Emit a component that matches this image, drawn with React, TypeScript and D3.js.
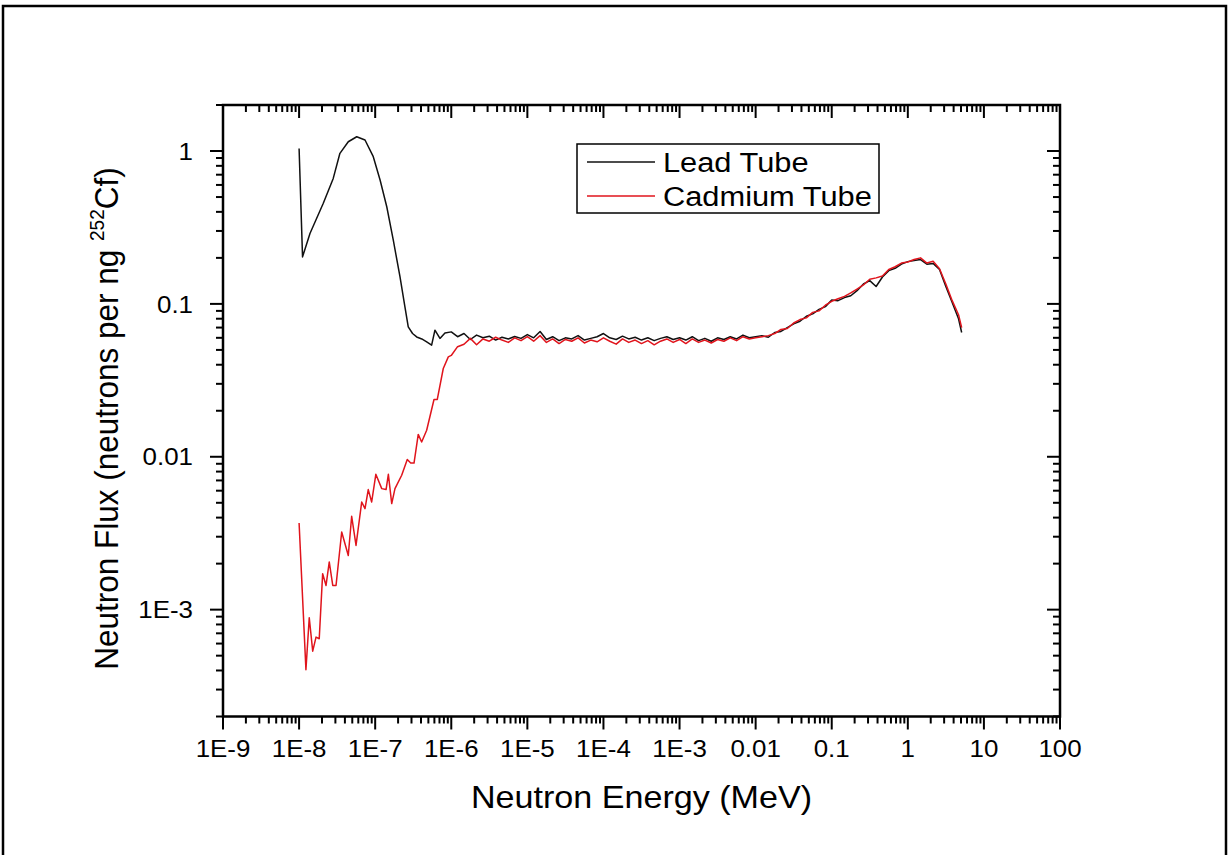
import React from "react";
import * as d3 from "d3";

// ---------- data ----------
const leadLowE = [1.0e-8, 1.11e-8, 1.39e-8, 2.08e-8, 2.81e-8, 3.44e-8, 4.43e-8, 5.72e-8, 7.35e-8, 9.44e-8, 1.16e-7, 1.42e-7, 1.73e-7, 2.12e-7, 2.46e-7, 2.72e-7, 3.1e-7, 3.51e-7, 4.1e-7, 4.75e-7, 5.52e-7, 6.1e-7, 7.1e-7, 8.26e-7];
const leadLowF = [1.04, 0.203, 0.289, 0.455, 0.662, 0.966, 1.15, 1.24, 1.18, 0.918, 0.646, 0.432, 0.261, 0.150, 0.0957, 0.0708, 0.064, 0.0608, 0.059, 0.0565, 0.0537, 0.0673, 0.0594, 0.0645];

const cadLowE = [1.0e-8, 1.23e-8, 1.36e-8, 1.51e-8, 1.67e-8, 1.84e-8, 2.04e-8, 2.26e-8, 2.49e-8, 2.77e-8, 3.06e-8, 3.63e-8, 4.43e-8, 4.91e-8, 5.6e-8, 6.65e-8, 7.35e-8, 8.11e-8, 8.99e-8, 1.02e-7, 1.22e-7, 1.39e-7, 1.49e-7, 1.65e-7, 1.82e-7, 2.23e-7, 2.64e-7, 2.93e-7, 3.24e-7, 3.68e-7, 4.08e-7, 4.75e-7, 5.93e-7, 6.55e-7, 7.85e-7, 9.14e-7];
const cadLowF = [3.69e-3, 4.05e-4, 8.85e-4, 5.35e-4, 6.61e-4, 6.45e-4, 1.72e-3, 1.44e-3, 2.05e-3, 1.44e-3, 1.44e-3, 3.22e-3, 2.26e-3, 4.08e-3, 2.63e-3, 5.06e-3, 4.58e-3, 6.1e-3, 5.06e-3, 7.68e-3, 6.19e-3, 6.1e-3, 7.68e-3, 4.94e-3, 6.19e-3, 7.57e-3, 9.59e-3, 9.1e-3, 9.1e-3, 0.014, 0.0125, 0.0149, 0.0237, 0.0237, 0.0378, 0.045];

const midE = [
  1.0e-6, 1.21e-6, 1.47e-6, 1.78e-6, 2.15e-6, 2.61e-6, 3.16e-6, 3.83e-6, 4.64e-6, 5.62e-6, 6.81e-6, 8.25e-6,
  1.0e-5, 1.21e-5, 1.47e-5, 1.78e-5, 2.15e-5, 2.61e-5, 3.16e-5, 3.83e-5, 4.64e-5, 5.62e-5, 6.81e-5, 8.25e-5,
  1.0e-4, 1.21e-4, 1.47e-4, 1.78e-4, 2.15e-4, 2.61e-4, 3.16e-4, 3.83e-4, 4.64e-4, 5.62e-4, 6.81e-4, 8.25e-4,
  1.0e-3, 1.21e-3, 1.47e-3, 1.78e-3, 2.15e-3, 2.61e-3, 3.16e-3, 3.83e-3, 4.64e-3, 5.62e-3, 6.81e-3, 8.25e-3,
  1.0e-2, 1.21e-2, 1.47e-2, 1.78e-2, 2.15e-2, 2.61e-2, 3.16e-2, 3.83e-2, 4.64e-2, 5.62e-2, 6.81e-2, 8.25e-2,
  0.1, 0.121, 0.147, 0.178, 0.215, 0.261, 0.316, 0.383, 0.464, 0.562, 0.681, 0.825,
  1.0, 1.21, 1.47, 1.78, 2.15, 2.61, 3.16, 3.83, 4.64, 5.1,
];
const leadMidF = [
  0.0656, 0.061, 0.064, 0.0585, 0.0625, 0.06, 0.0615, 0.058, 0.0605, 0.059, 0.0612, 0.0595,
  0.063, 0.06, 0.066, 0.0585, 0.061, 0.0575, 0.06, 0.059, 0.062, 0.058, 0.0595, 0.061,
  0.064, 0.06, 0.0585, 0.0615, 0.059, 0.0605, 0.058, 0.06, 0.0575, 0.0595, 0.061, 0.0585,
  0.06, 0.058, 0.061, 0.0575, 0.0595, 0.057, 0.06, 0.0585, 0.061, 0.059, 0.0625, 0.06,
  0.061, 0.062, 0.0605, 0.065, 0.066, 0.07, 0.074, 0.077, 0.083, 0.086, 0.092, 0.096,
  0.106, 0.105, 0.11, 0.113, 0.122, 0.135, 0.142, 0.13, 0.15, 0.165, 0.171, 0.182,
  0.189, 0.192, 0.195, 0.182, 0.184, 0.168, 0.13, 0.102, 0.08, 0.065,
];
const cadMidF = [
  0.046, 0.0525, 0.0545, 0.0595, 0.054, 0.059, 0.057, 0.0605, 0.058, 0.056, 0.06, 0.0575,
  0.061, 0.057, 0.062, 0.056, 0.059, 0.055, 0.0585, 0.057, 0.06, 0.0555, 0.058, 0.0565,
  0.06, 0.057, 0.0545, 0.059, 0.056, 0.058, 0.055, 0.0575, 0.054, 0.057, 0.059, 0.056,
  0.0585, 0.055, 0.059, 0.056, 0.058, 0.0555, 0.0585, 0.057, 0.06, 0.0575, 0.061, 0.059,
  0.06, 0.061, 0.062, 0.064, 0.068, 0.069, 0.075, 0.079, 0.081, 0.088, 0.09, 0.098,
  0.104, 0.108, 0.112, 0.118, 0.125, 0.133, 0.145, 0.148, 0.152, 0.168, 0.175, 0.185,
  0.188, 0.195, 0.2, 0.185, 0.19, 0.17, 0.135, 0.105, 0.085, 0.07,
];

const xTickLabels = ["1E-9", "1E-8", "1E-7", "1E-6", "1E-5", "1E-4", "1E-3", "0.01", "0.1", "1", "10", "100"];
const xTickValues = [1e-9, 1e-8, 1e-7, 1e-6, 1e-5, 1e-4, 1e-3, 1e-2, 0.1, 1, 10, 100];
const yTickLabels = ["1E-3", "0.01", "0.1", "1"];
const yTickValues = [1e-3, 1e-2, 0.1, 1];
const seriesNames = ["Lead Tube", "Cadmium Tube"];
const seriesColors = ["#111111", "#e0141c"];

// ---------- layout ----------
const W = 1229, H = 855;
const L = 223, R = 1060, T = 105, B = 716.5;
const FONT = "'Liberation Sans', Arial, sans-serif";

function zip(e: number[], f: number[]) { return e.map((v, i) => [v, f[i]] as [number, number]); }

export default function App() {
  const x = d3.scaleLog().domain([1e-9, 100]).range([L, R]);
  const y = d3.scaleLog().domain([2e-4, 2]).range([B, T]);
  const line = d3.line<[number, number]>().x(d => x(d[0])).y(d => y(d[1]));

  const lead = zip(leadLowE.concat(midE), leadLowF.concat(leadMidF));
  const cad = zip(cadLowE.concat(midE), cadLowF.concat(cadMidF));

  const xMinor: number[] = [];
  for (let e = -9; e < 2; e++) for (let k = 2; k <= 9; k++) xMinor.push(k * Math.pow(10, e));
  const yMinor: number[] = [];
  for (let e = -4; e < 1; e++) for (let k = 2; k <= 9; k++) {
    const v = k * Math.pow(10, e);
    if (v >= 2e-4 && v <= 2) yMinor.push(v);
  }
  const MJ = 13, MN = 7;
  const tickStroke = { stroke: "#000", strokeWidth: 2 };
  const SX = 1.08;

  return (
    <svg width={W} height={H} style={{ position: "absolute", left: 0, top: 0, background: "#fff" }} fontFamily={FONT}>
      <rect x={0} y={0} width={W} height={H} fill="#fff" />
      <path d={`M3,${H} V6 H1226 V${H}`} fill="none" stroke="#000" strokeWidth={2.5} />

      <defs>
        <clipPath id="clip"><rect x={L} y={T} width={R - L} height={B - T} /></clipPath>
      </defs>
      {/* data */}
      <g clipPath="url(#clip)">
        <path d={line(lead) || ""} fill="none" stroke={seriesColors[0]} strokeWidth={1.5} strokeLinejoin="round" />
        <path d={line(cad) || ""} fill="none" stroke={seriesColors[1]} strokeWidth={1.5} strokeLinejoin="round" />
      </g>

      {/* ticks */}
      <g>
        {xTickValues.map((v, i) => (
          <g key={"xt" + i}>
            <line x1={x(v)} x2={x(v)} y1={B} y2={B + MJ} {...tickStroke} />
            <line x1={x(v)} x2={x(v)} y1={T} y2={T + MJ} {...tickStroke} />
          </g>
        ))}
        {xMinor.map((v, i) => (
          <g key={"xm" + i}>
            <line x1={x(v)} x2={x(v)} y1={B} y2={B + MN} {...tickStroke} />
            <line x1={x(v)} x2={x(v)} y1={T} y2={T + MN} {...tickStroke} />
          </g>
        ))}
        {yTickValues.map((v, i) => (
          <g key={"yt" + i}>
            <line x1={L - MJ} x2={L} y1={y(v)} y2={y(v)} {...tickStroke} />
            <line x1={R - MJ} x2={R} y1={y(v)} y2={y(v)} {...tickStroke} />
          </g>
        ))}
        {yMinor.map((v, i) => (
          <g key={"ym" + i}>
            <line x1={L - MN} x2={L} y1={y(v)} y2={y(v)} {...tickStroke} />
            <line x1={R - MN} x2={R} y1={y(v)} y2={y(v)} {...tickStroke} />
          </g>
        ))}
      </g>

      <rect x={L} y={T} width={R - L} height={B - T} fill="none" stroke="#000" strokeWidth={2.5} />

      {/* tick labels */}
      {xTickValues.map((v, i) => (
        <text key={"xl" + i} transform={`translate(${x(v)},757) scale(${SX},1)`} textAnchor="middle" fontSize={24} fill="#000">{xTickLabels[i]}</text>
      ))}
      {yTickValues.map((v, i) => (
        <text key={"yl" + i} transform={`translate(193,${y(v)}) scale(${SX},1)`} dy="0.36em" textAnchor="end" fontSize={24} fill="#000">{yTickLabels[i]}</text>
      ))}

      {/* axis titles */}
      <text transform={`translate(${(L + R) / 2},808) scale(1.1,1)`} textAnchor="middle" fontSize={31} fill="#000">Neutron Energy (MeV)</text>
      <text transform={`translate(118,418.5) rotate(-90) scale(1,1.08)`} textAnchor="middle" fontSize={31.5} fill="#000">
        Neutron Flux (neutrons per ng <tspan fontSize={19} dy={-13}>252</tspan><tspan dy={13}>Cf)</tspan>
      </text>

      {/* legend */}
      <rect x={577} y={144} width={302} height={69} fill="#fff" stroke="#000" strokeWidth={1.5} />
      {seriesNames.map((n, i) => (
        <g key={"lg" + i}>
          <line x1={587} x2={655} y1={162 + i * 34} y2={162 + i * 34} stroke={seriesColors[i]} strokeWidth={1.5} />
          <text transform={`translate(663,${172 + i * 34}) scale(1.1,1)`} fontSize={28} fill="#000">{n}</text>
        </g>
      ))}
    </svg>
  );
}
